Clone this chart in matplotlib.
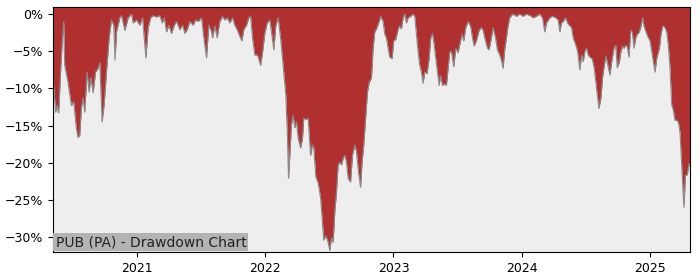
import matplotlib
matplotlib.use("Agg")
import matplotlib.pyplot as plt
import matplotlib.dates as mdates
import matplotlib.ticker as mticker
import pandas as pd

TITLE = "PUB (PA) - Drawdown Chart"

# time as decimal years (rows of 10, matched with drawdown rows below)
years = [
    2020.345, 2020.366, 2020.376, 2020.389, 2020.402, 2020.415, 2020.428, 2020.436, 2020.462, 2020.488,
    2020.506, 2020.527, 2020.540, 2020.553, 2020.566, 2020.579, 2020.592, 2020.610, 2020.626, 2020.639,
    2020.657, 2020.676, 2020.696, 2020.709, 2020.727, 2020.743, 2020.761, 2020.782, 2020.800, 2020.818,
    2020.828, 2020.839, 2020.865, 2020.878, 2020.904, 2020.930, 2020.956, 2020.969, 2020.995, 2021.021,
    2021.042, 2021.068, 2021.086, 2021.105, 2021.125, 2021.151, 2021.177, 2021.195, 2021.211, 2021.229,
    2021.247, 2021.268, 2021.289, 2021.307, 2021.333, 2021.354, 2021.372, 2021.390, 2021.411, 2021.437,
    2021.456, 2021.476, 2021.502, 2021.520, 2021.541, 2021.559, 2021.580, 2021.588, 2021.606, 2021.624,
    2021.645, 2021.666, 2021.684, 2021.702, 2021.723, 2021.744, 2021.762, 2021.780, 2021.801, 2021.817,
    2021.832, 2021.853, 2021.871, 2021.885, 2021.900, 2021.918, 2021.939, 2021.963, 2021.978, 2021.996,
    2022.014, 2022.035, 2022.048, 2022.066, 2022.082, 2022.100, 2022.119, 2022.139, 2022.160, 2022.173,
    2022.181, 2022.191, 2022.204, 2022.217, 2022.230, 2022.243, 2022.256, 2022.275, 2022.290, 2022.300,
    2022.321, 2022.334, 2022.353, 2022.368, 2022.378, 2022.394, 2022.412, 2022.431, 2022.443, 2022.456,
    2022.472, 2022.490, 2022.503, 2022.516, 2022.529, 2022.542, 2022.555, 2022.568, 2022.581, 2022.594,
    2022.607, 2022.620, 2022.633, 2022.646, 2022.665, 2022.680, 2022.698, 2022.711, 2022.727, 2022.743,
    2022.755, 2022.768, 2022.784, 2022.797, 2022.810, 2022.828, 2022.841, 2022.854, 2022.867, 2022.888,
    2022.901, 2022.919, 2022.932, 2022.945, 2022.958, 2022.971, 2022.989, 2023.002, 2023.018, 2023.031,
    2023.044, 2023.062, 2023.075, 2023.088, 2023.101, 2023.114, 2023.133, 2023.153, 2023.166, 2023.179,
    2023.192, 2023.205, 2023.218, 2023.231, 2023.244, 2023.262, 2023.278, 2023.291, 2023.304, 2023.317,
    2023.330, 2023.343, 2023.356, 2023.367, 2023.382, 2023.400, 2023.413, 2023.426, 2023.439, 2023.452,
    2023.470, 2023.486, 2023.504, 2023.517, 2023.535, 2023.548, 2023.564, 2023.582, 2023.601, 2023.616,
    2023.629, 2023.647, 2023.668, 2023.686, 2023.699, 2023.718, 2023.733, 2023.746, 2023.764, 2023.777,
    2023.796, 2023.811, 2023.829, 2023.842, 2023.855, 2023.868, 2023.881, 2023.894, 2023.907, 2023.920,
    2023.933, 2023.959, 2023.985, 2024.011, 2024.037, 2024.076, 2024.089, 2024.115, 2024.141, 2024.162,
    2024.180, 2024.193, 2024.219, 2024.240, 2024.266, 2024.284, 2024.297, 2024.310, 2024.323, 2024.342,
    2024.357, 2024.370, 2024.388, 2024.401, 2024.420, 2024.435, 2024.453, 2024.466, 2024.479, 2024.492,
    2024.505, 2024.518, 2024.531, 2024.549, 2024.565, 2024.583, 2024.601, 2024.617, 2024.630, 2024.640,
    2024.656, 2024.674, 2024.687, 2024.700, 2024.718, 2024.732, 2024.744, 2024.760, 2024.773, 2024.786,
    2024.796, 2024.810, 2024.822, 2024.835, 2024.849, 2024.861, 2024.874, 2024.888, 2024.900, 2024.916,
    2024.929, 2024.942, 2024.952, 2024.968, 2024.981, 2024.999, 2025.012, 2025.025, 2025.038, 2025.051,
    2025.072, 2025.085, 2025.098, 2025.116, 2025.129, 2025.142, 2025.155, 2025.168, 2025.181, 2025.194,
    2025.207, 2025.220, 2025.233, 2025.246, 2025.257, 2025.264, 2025.275, 2025.290, 2025.303, 2025.311,
]
# drawdown from running peak, percent
drawdown = [
    -8.6, -13.2, -12.3, -13.3, -8.5, -4.2, -1.0, -6.9, -9.2, -12.3,
    -11.8, -15.4, -16.6, -16.3, -12.6, -11.3, -13.2, -7.8, -10.5, -8.5,
    -10.6, -7.8, -7.3, -6.5, -14.5, -12.2, -7.8, -3.2, -0.8, -1.5,
    -6.2, -2.4, -0.5, -0.2, -2.2, -0.5, 0.0, -1.2, -0.8, -1.5,
    -0.5, -5.9, -1.8, -0.5, -0.2, -0.4, -0.2, -1.2, -0.5, -2.4,
    -1.5, -2.6, -1.5, -1.0, -2.1, -1.5, -2.6, -2.1, -1.0, -1.5,
    -0.8, -1.0, -0.5, -3.2, -5.9, -1.5, -2.4, -3.2, -1.6, -3.2,
    -1.0, -0.3, -0.8, -0.5, -1.2, -0.5, -1.5, -2.1, -3.0, -3.6,
    -2.1, -1.5, -0.5, -0.3, -3.2, -5.5, -5.5, -6.9, -5.2, -2.6,
    -1.2, -0.8, -2.4, -4.8, -1.5, -0.5, -3.2, -6.9, -10.9, -16.7,
    -22.1, -19.0, -14.9, -13.6, -15.3, -14.5, -16.7, -18.0, -16.7, -14.0,
    -14.2, -14.0, -19.0, -17.6, -18.0, -21.9, -22.7, -24.7, -27.4, -30.4,
    -29.8, -30.7, -31.8, -30.1, -30.7, -26.6, -24.0, -20.3, -19.9, -20.3,
    -19.4, -19.0, -19.9, -22.1, -22.6, -19.0, -17.6, -18.5, -21.3, -23.3,
    -19.9, -17.6, -13.6, -10.5, -9.2, -8.6, -4.6, -2.4, -2.0, -1.0,
    -0.3, -1.0, -2.7, -3.2, -4.6, -5.8, -6.0, -3.6, -3.4, -2.4,
    -1.6, -2.0, -0.5, 0.0, -1.2, -0.5, -0.3, 0.0, -0.3, -2.7,
    -5.1, -6.9, -7.8, -9.3, -7.8, -8.0, -6.0, -3.2, -2.6, -4.1,
    -6.0, -7.8, -9.6, -8.3, -9.6, -9.4, -9.6, -7.3, -5.1, -5.0,
    -7.1, -4.6, -5.2, -4.1, -2.7, -3.6, -1.8, -1.0, -1.6, -3.2,
    -4.3, -3.6, -2.2, -1.8, -2.2, -3.6, -4.6, -4.8, -3.2, -1.8,
    -3.2, -4.8, -5.5, -6.2, -7.3, -4.8, -3.2, -1.6, -0.5, -0.2,
    0.0, -0.3, 0.0, -0.3, 0.0, -0.3, -0.5, -0.3, 0.0, -0.5,
    -2.4, -1.2, -0.5, -0.3, -0.5, -0.8, -2.4, -1.2, -1.0, -0.5,
    -1.2, -1.5, -1.8, -3.2, -4.1, -5.0, -7.5, -5.5, -6.4, -5.0,
    -4.6, -5.5, -5.8, -6.0, -7.3, -10.0, -12.7, -11.3, -8.5, -7.3,
    -5.6, -7.2, -8.2, -6.5, -4.6, -4.2, -7.2, -6.5, -5.0, -4.3,
    -4.6, -4.2, -4.4, -5.8, -2.2, -2.4, -4.6, -3.2, -2.7, -2.4,
    -1.6, -0.5, -1.6, -2.4, -3.0, -3.6, -5.0, -6.4, -7.8, -6.0,
    -4.6, -2.7, -1.6, -1.8, -2.4, -4.2, -7.2, -12.2, -12.9, -14.3,
    -14.3, -14.5, -15.9, -20.3, -24.0, -26.0, -21.7, -21.6, -20.1, -20.5,
]


def to_dates(decimal_years):
    out = []
    for y in decimal_years:
        year = int(y)
        start = pd.Timestamp(year=year, month=1, day=1)
        end = pd.Timestamp(year=year + 1, month=1, day=1)
        out.append(start + (end - start) * (y - year))
    return out


def main() -> None:
    assert len(years) == len(drawdown), (len(years), len(drawdown))
    dates = to_dates(years)
    top = 0.95

    fig = plt.figure(figsize=(7, 2.8), dpi=100)
    ax = fig.add_axes([0.0757, 0.1, 0.91, 0.875])
    ax.set_facecolor("#eeeeee")

    ax.fill_between(dates, drawdown, top, color="#b03030", linewidth=0)
    ax.plot(dates, drawdown, color="#8a8a8a", linewidth=0.8)

    ax.set_xlim(dates[0], dates[-1])
    ax.set_ylim(-32.0, top)
    ax.set_yticks([0, -5, -10, -15, -20, -25, -30])
    ax.yaxis.set_major_formatter(mticker.PercentFormatter(decimals=0))
    ax.xaxis.set_major_locator(mdates.YearLocator())
    ax.xaxis.set_major_formatter(mdates.DateFormatter("%Y"))
    ax.tick_params(labelsize=9)

    ax.text(0.004, 0.012, TITLE, transform=ax.transAxes, fontsize=10,
            ha="left", va="bottom", color="#222222",
            bbox=dict(boxstyle="square,pad=0.15", facecolor="#b3b3b3",
                      edgecolor="none"))

    fig.savefig("out.png", dpi=100)
    plt.close(fig)


if __name__ == "__main__":
    main()
